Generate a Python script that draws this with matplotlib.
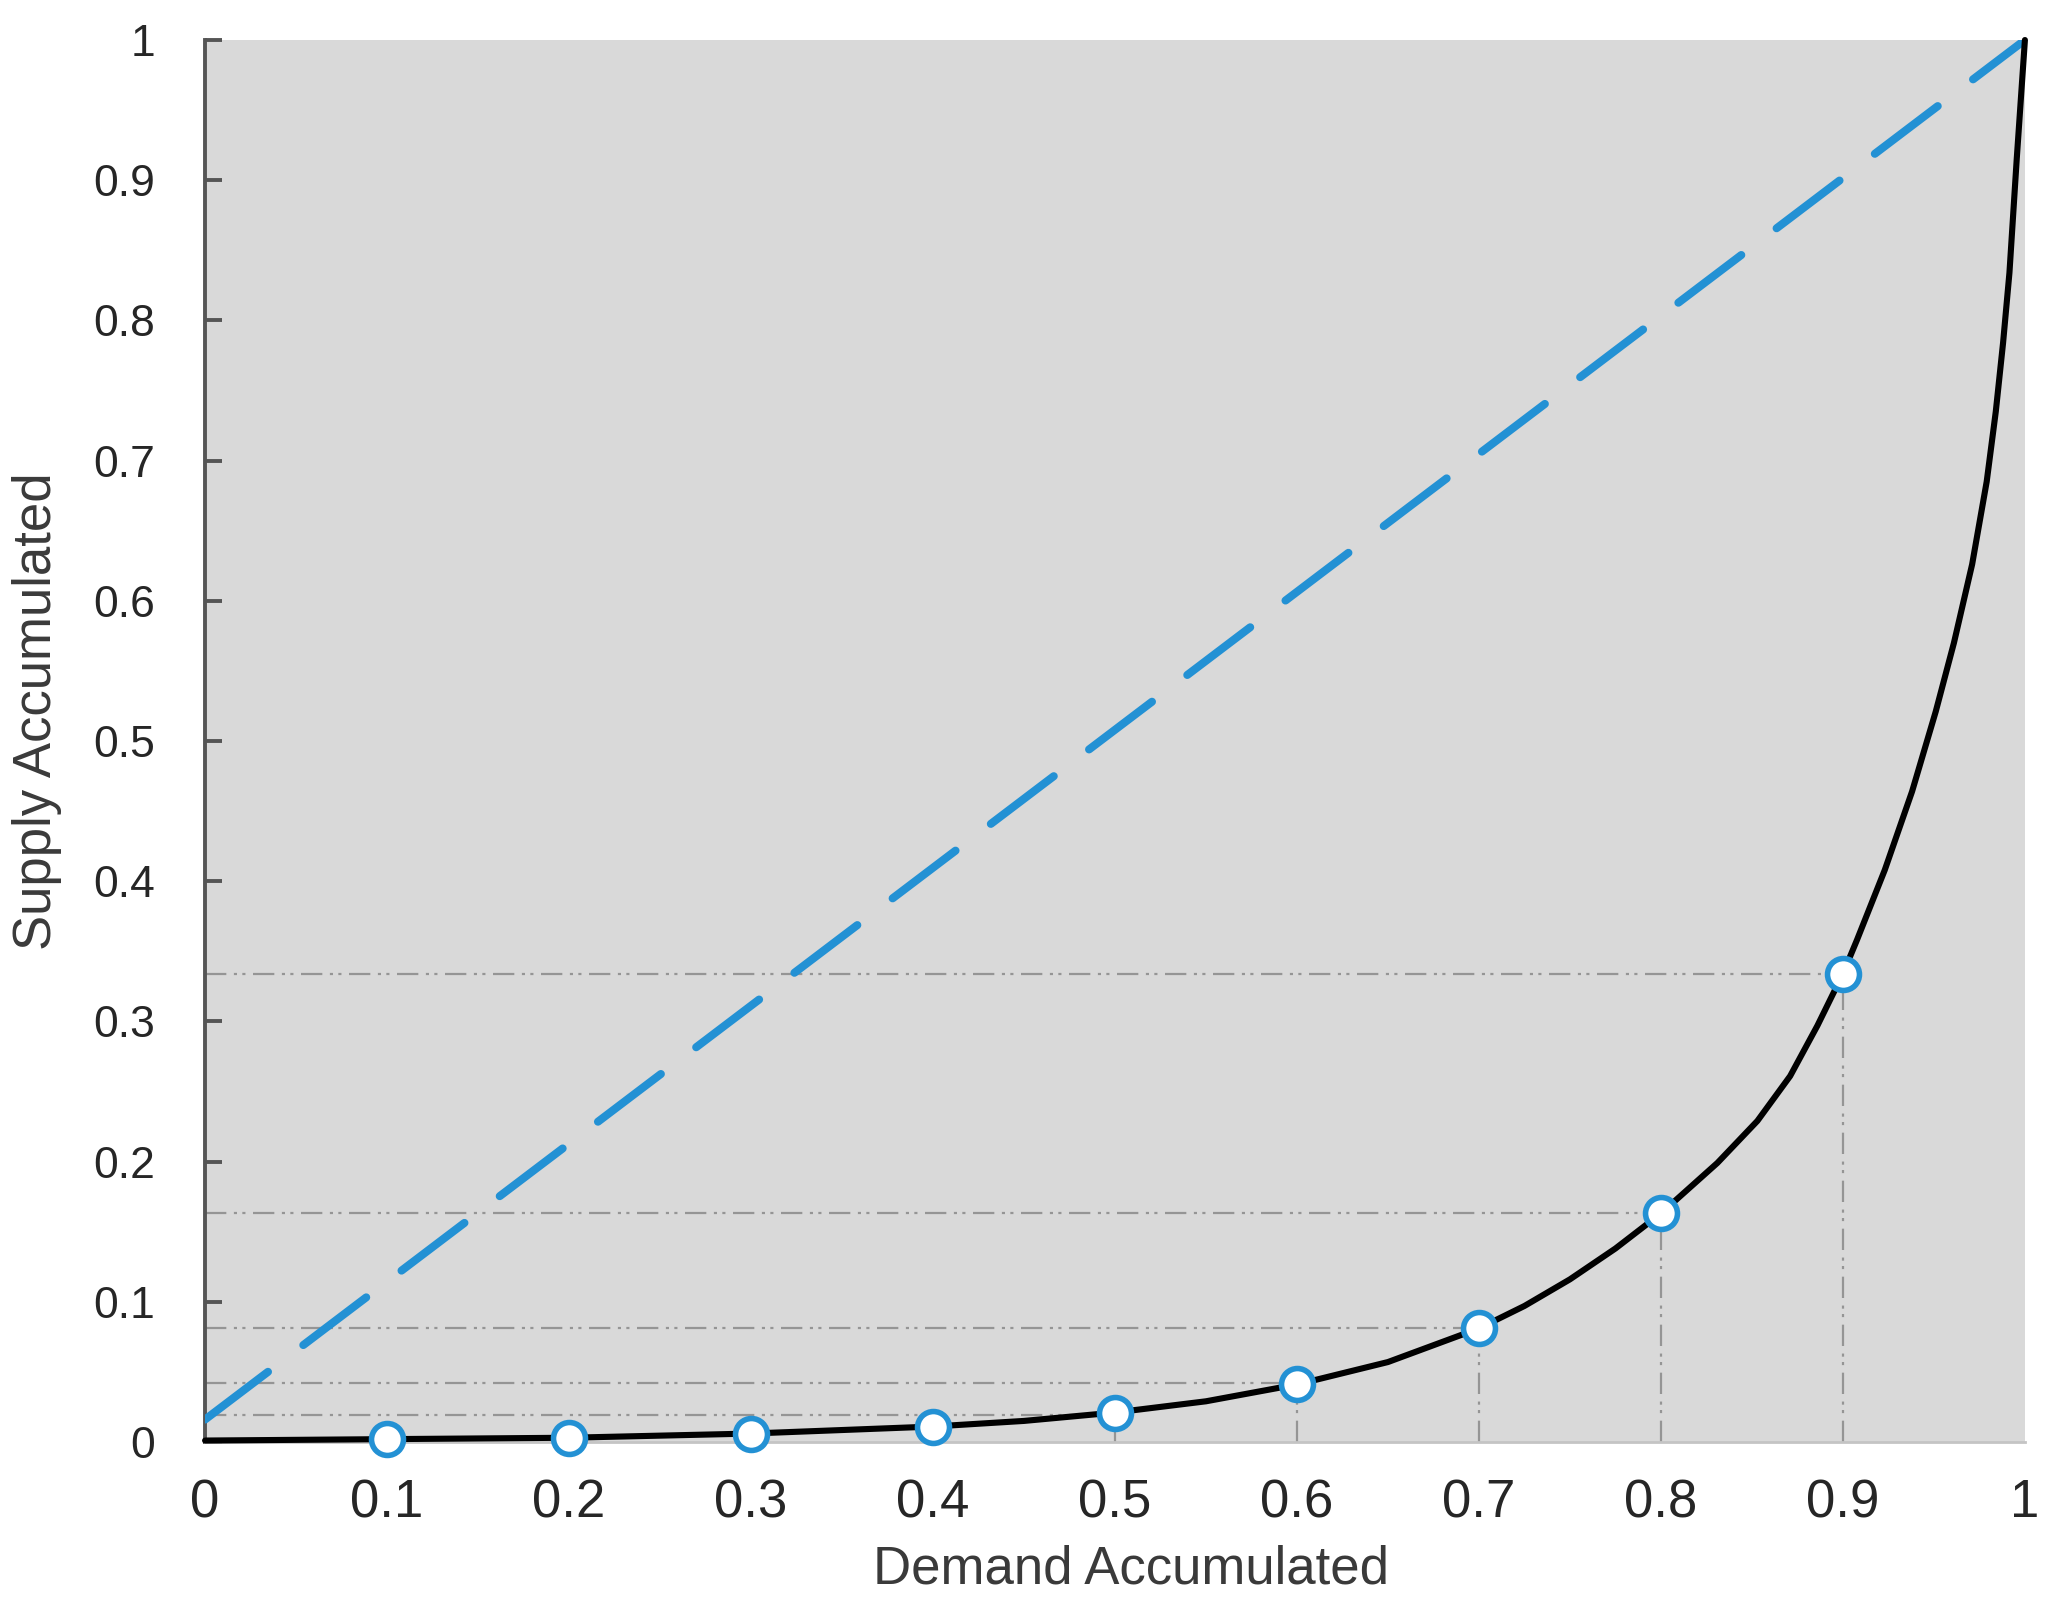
import matplotlib
matplotlib.use("Agg")
import matplotlib.pyplot as plt
import numpy as np

# points
demand_pts = [0.1, 0.2, 0.3, 0.4, 0.5, 0.6, 0.7, 0.8, 0.9]
supply_pts = [0.002, 0.003, 0.006, 0.011, 0.021, 0.041, 0.081, 0.163, 0.334]

# curve
curve_x = [0.0, 0.1, 0.2, 0.3, 0.4, 0.45, 0.5, 0.55, 0.6, 0.65, 0.7, 0.725, 0.75,
           0.775, 0.8, 0.831, 0.853, 0.871, 0.886, 0.9, 0.9077, 0.923, 0.938,
           0.951, 0.961, 0.971, 0.979, 0.984, 0.988, 0.9915, 0.9955, 1.0]
curve_y = [0.001, 0.002, 0.003, 0.006, 0.011, 0.015, 0.021, 0.029, 0.041, 0.057,
           0.081, 0.097, 0.116, 0.138, 0.163, 0.199, 0.229, 0.261, 0.297, 0.334,
           0.358, 0.408, 0.464, 0.521, 0.570, 0.626, 0.685, 0.735, 0.784, 0.834,
           0.915, 1.0]

# equality line (dashed blue)
equal_x = [0.0, 1.0]
equal_y = [0.016, 1.0]

# guide lines drawn for these points
guide_x = [0.5, 0.6, 0.7, 0.8, 0.9]
guide_y = [0.019, 0.042, 0.081, 0.163, 0.334]

ticks = [0, 0.1, 0.2, 0.3, 0.4, 0.5, 0.6, 0.7, 0.8, 0.9, 1]
tick_labels = ["0", "0.1", "0.2", "0.3", "0.4", "0.5", "0.6", "0.7", "0.8", "0.9", "1"]

blue = "#2391d4"
grid_grey = "#959595"
text_col = "#262626"

fig = plt.figure(figsize=(20.57, 16.14), dpi=100)
ax = fig.add_axes([0.0997, 0.1066, 0.8847, 0.8686])
ax.set_facecolor("#d9d9d9")

dashdotdot = (0, (9.6, 3.4, 1.4, 2.4, 1.4, 3.4))
for gx, gy in zip(guide_x, guide_y):
    ax.plot([0, gx], [gy, gy], color=grid_grey, lw=1.6, ls=dashdotdot, zorder=2)
    ax.plot([gx, gx], [0, gy], color=grid_grey, lw=1.6, ls=dashdotdot, zorder=2)

ax.plot(equal_x, equal_y, color=blue, lw=5.8, ls=(0, (9.8, 5.5)),
        dash_capstyle="round", zorder=3)
ax.plot(curve_x, curve_y, color="black", lw=4.4, zorder=4, clip_on=False,
        solid_joinstyle="round", solid_capstyle="round")
ax.plot(demand_pts, supply_pts, ls="none", marker="o", ms=23, mfc="white",
        mec=blue, mew=4, zorder=5, clip_on=False)

ax.set_xlim(0, 1)
ax.set_ylim(0, 1)

ax.spines["top"].set_visible(False)
ax.spines["right"].set_visible(False)
ax.spines["left"].set_color("#555555")
ax.spines["left"].set_linewidth(2.8)
ax.spines["bottom"].set_color("#c4c4c4")
ax.spines["bottom"].set_linewidth(2)

ax.set_xticks(ticks)
ax.set_xticklabels(tick_labels, family=["Liberation Sans Narrow", "Liberation Sans"],
                   fontsize=38, color=text_col)
ax.set_yticks(ticks)
ax.set_yticklabels(tick_labels, family="Liberation Sans", fontsize=32, color=text_col)
ax.tick_params(axis="x", length=0, pad=26)
ax.tick_params(axis="y", direction="in", length=12, width=2.8, color="#555555", pad=36)

ax.set_xlabel("Demand Accumulated", family="Liberation Sans", fontsize=38,
              color="#3a3a3a", va="center")
ax.xaxis.set_label_coords(0.509, -0.091)
ax.set_ylabel("Supply Accumulated", family="Liberation Sans", fontsize=38,
              color="#3a3a3a", va="center", ha="center")
ax.yaxis.set_label_coords(-0.0923, 0.521)

fig.savefig("out.png", dpi=100, facecolor="white")
